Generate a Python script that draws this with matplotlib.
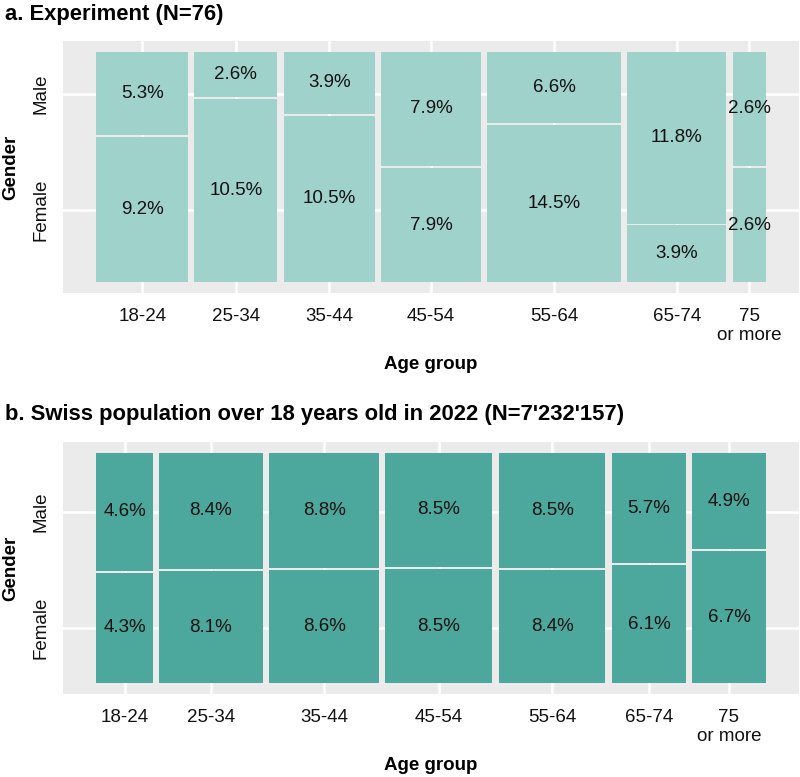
import numpy as np
import matplotlib.pyplot as plt

plt.rcParams['font.family'] = ['Liberation Sans', 'DejaVu Sans']

# === Data (percent of total) ===
age_groups = ["18-24", "25-34", "35-44", "45-54", "55-64", "65-74", "75\nor more"]
genders = ["Female", "Male"]

exp_female = [9.2, 10.5, 10.5, 7.9, 14.5, 3.9, 2.6]
exp_male = [5.3, 2.6, 3.9, 7.9, 6.6, 11.8, 2.6]

pop_female = [4.3, 8.1, 8.6, 8.5, 8.4, 6.1, 6.7]
pop_male = [4.6, 8.4, 8.8, 8.5, 8.5, 5.7, 4.9]

title_a = "a. Experiment (N=76)"
title_b = "b. Swiss population over 18 years old in 2022 (N=7'232'157)"

W, H = 800, 777
GAP_X = 0.01
GAP_Y = 0.008
BG = "#EBEBEB"
FS = 13.5


def px_axes(fig, left, top, right, bottom):
    return fig.add_axes([left / W, 1 - bottom / H, (right - left) / W, (bottom - top) / H])


# === Mosaic panel ===
def mosaic(ax, female, male, color):
    female = np.array(female)
    male = np.array(male)
    col = female + male
    widths = col / col.sum()
    lefts = np.concatenate([[0], np.cumsum(widths[:-1] + GAP_X)])
    fh = female / col

    ax.bar(lefts, fh, width=widths, bottom=0, align="edge", color=color, linewidth=0, zorder=2)
    ax.bar(lefts, 1 - fh, width=widths, bottom=fh + GAP_Y, align="edge", color=color,
           linewidth=0, zorder=2)

    centers = lefts + widths / 2
    for i in range(len(col)):
        ax.text(centers[i], fh[i] / 2, f"{female[i]:.1f}%", ha="center", va="center",
                fontsize=FS, color="#111111", zorder=3)
        ax.text(centers[i], fh[i] + GAP_Y + (1 - fh[i]) / 2, f"{male[i]:.1f}%",
                ha="center", va="center", fontsize=FS, color="#111111", zorder=3)

    xmax = lefts[-1] + widths[-1]
    ax.set_xlim(-0.05 * xmax, 1.05 * xmax)
    ymax = 1 + GAP_Y
    ax.set_ylim(-0.047 * ymax, 1.047 * ymax)

    ax.set_xticks(centers)
    ax.set_xticklabels(age_groups, fontsize=FS, color="#111111", linespacing=1.1)
    ax.set_yticks([fh[0] / 2, fh[0] + GAP_Y + (1 - fh[0]) / 2])
    ax.set_yticklabels(genders, fontsize=FS, color="#111111", rotation=90, va="center")
    ax.tick_params(axis="x", length=0, pad=11)
    ax.tick_params(axis="y", length=0, pad=10)

    ax.set_facecolor(BG)
    ax.grid(True, color="white", linewidth=1.8, zorder=0)
    ax.set_axisbelow(True)
    for s in ax.spines.values():
        s.set_visible(False)


fig = plt.figure(figsize=(W / 100, H / 100), dpi=100)

ax_a = px_axes(fig, 63, 41, 799, 293)
mosaic(ax_a, exp_female, exp_male, "#9ED2CB")

ax_b = px_axes(fig, 63, 442, 799, 694)
mosaic(ax_b, pop_female, pop_male, "#4CA89C")

# titles and axis titles
for title, base, top, bottom in [(title_a, 20, 41, 293), (title_b, 420, 442, 694)]:
    fig.text(5 / W, 1 - base / H, title, fontsize=15.8, fontweight="bold", va="baseline")
    fig.text(431 / W, 1 - (bottom + 76) / H, "Age group", fontsize=FS, fontweight="bold",
             ha="center", va="baseline")
    fig.text(11 / W, 1 - ((top + bottom) / 2) / H, "Gender", fontsize=FS, fontweight="bold",
             rotation=90, ha="center", va="center")

fig.savefig("out.png", dpi=100)
